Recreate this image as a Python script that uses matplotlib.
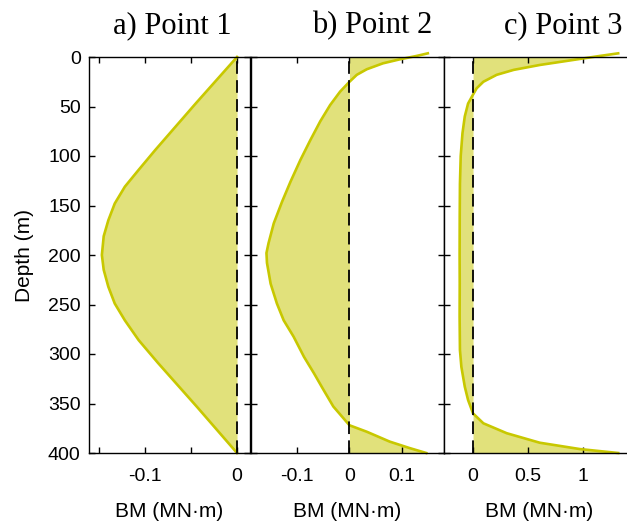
import matplotlib
matplotlib.use('Agg')
import matplotlib.pyplot as plt

# bending moment profiles (depth in m, BM in MN·m)
depth1 = [0, 47, 94, 114, 131, 148, 165, 181, 200, 215, 232, 249, 266, 286, 309, 354, 400]
bm1 = [0, -0.045, -0.089, -0.107, -0.122, -0.133, -0.140, -0.145, -0.147, -0.145,
       -0.140, -0.133, -0.122, -0.107, -0.086, -0.043, 0]

depth2 = [-3.7, -1, 2.4, 6.4, 12.4, 18, 25, 35, 48.5, 65, 84, 104, 126, 146, 168, 188,
          198, 208, 229, 249, 266, 282.5, 303, 319.5, 336, 353, 372, 378.5, 388.5, 395, 400]
bm2 = [0.150, 0.128, 0.096, 0.064, 0.033, 0.014, 0, -0.018, -0.037, -0.056, -0.075,
       -0.094, -0.113, -0.129, -0.145, -0.155, -0.159, -0.158, -0.151, -0.139, -0.126,
       -0.107, -0.087, -0.068, -0.050, -0.031, 0, 0.033, 0.077, 0.115, 0.147]

depth3 = [-3.7, -1, 3, 8, 13, 18, 25, 31.6, 38, 47, 60, 77, 100, 128, 160, 200, 229,
          262, 296, 313, 333, 346.5, 360, 370, 380, 389.6, 396, 400]
bm3 = [1.32, 1.15, 0.91, 0.61, 0.37, 0.215, 0.094, 0.033, 0, -0.045, -0.075, -0.096,
       -0.112, -0.119, -0.121, -0.122, -0.121, -0.122, -0.119, -0.106, -0.075, -0.045,
       0, 0.094, 0.306, 0.606, 0.97, 1.32]

titles = ['a) Point 1', 'b) Point 2', 'c) Point 3']
xlims = [(-0.161, 0.0141), (-0.1886, 0.181), (-0.264, 1.473)]
xticks = [[-0.15, -0.1, -0.05, 0], [-0.1, 0, 0.1], [0, 0.5, 1]]
xticklabels = [['', '-0.1', '', '0'], ['-0.1', '0', '0.1'], ['0', '0.5', '1']]
yticks = [0, 50, 100, 150, 200, 250, 300, 350, 400]

W, H = 627, 525
# axes boxes in pixels: left, right
boxes = [(89, 250), (251, 444), (444, 635)]
top_px, bot_px = 57, 453
title_right = [232, 432, 622]

fill_c = '#E1E17B'
line_c = '#C8C800'

plt.rcParams['font.family'] = ['Liberation Sans', 'DejaVu Sans']

fig = plt.figure(figsize=(W / 100, H / 100), dpi=100)

data = [(depth1, bm1), (depth2, bm2), (depth3, bm3)]
for i, (d, bm) in enumerate(data):
    l, r = boxes[i]
    ax = fig.add_axes([l / W, (H - bot_px) / H, (r - l) / W, (bot_px - top_px) / H])
    ax.fill_betweenx(d, 0, bm, color=fill_c, lw=0, zorder=1)
    ax.plot(bm, d, color=line_c, lw=1.9, zorder=2, clip_on=False)
    ax.axvline(0, color='black', lw=1.3, ls=(0, (7, 3.5)), zorder=3)
    ax.set_xlim(*xlims[i])
    ax.set_ylim(400, 0)
    ax.set_xticks(xticks[i])
    ax.set_xticklabels(xticklabels[i])
    ax.set_yticks(yticks)
    ax.tick_params(direction='in', length=4, width=1, top=True, right=True,
                   labelsize=14, pad=11, colors='black')
    if i > 0:
        ax.tick_params(labelleft=False)
    else:
        ax.tick_params(axis='y', pad=6)
        ax.set_ylabel('Depth (m)', fontsize=15, labelpad=10)
    for s in ax.spines.values():
        s.set_linewidth(1.0)
    ax.set_xlabel('BM (MN·m)', fontsize=15, labelpad=12)
    fig.text(title_right[i] / W, (H - 33) / H, titles[i], ha='right', va='baseline',
             fontsize=22, family=['Liberation Serif', 'DejaVu Serif'])

fig.savefig('out.png', dpi=100)
